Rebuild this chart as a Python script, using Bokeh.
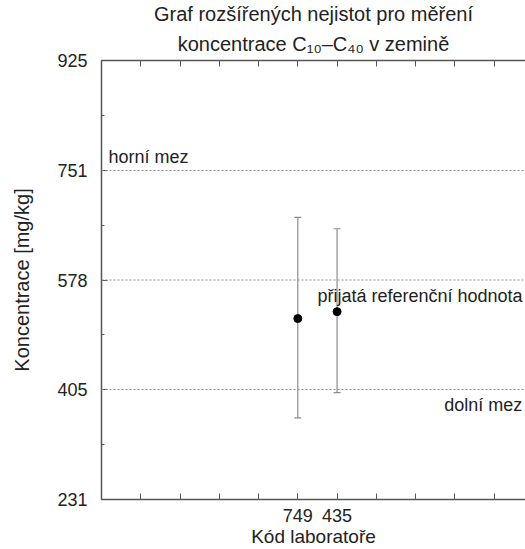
from bokeh.plotting import figure
from bokeh.models import (ColumnDataSource, FixedTicker, LinearAxis, Span, Label,
                          Whisker, TeeHead, Title, Range1d)
from bokeh.embed import file_html
from bokeh.resources import INLINE

# ---- data ----
labs = ["749", "435"]
values = [517, 528]
uncert_up = [160, 131]
uncert_down = [157, 128]
ref_value = 578
upper_limit = 751
lower_limit = 405
y_ticks = [231, 405, 578, 751, 925]
title_lines = ["Graf rozšířených nejistot pro měření", "koncentrace C₁₀–C₄₀ v zemině"]

FONT = "Liberation Sans"
GRAY = "#8c8c8c"
AXC = "#555555"
TXT = "#222222"

x_pos = [5 + i for i in range(len(labs))]
n_ticks = 11

src = ColumnDataSource(dict(
    x=x_pos, y=values,
    upper=[v + u for v, u in zip(values, uncert_up)],
    lower=[v - d for v, d in zip(values, uncert_down)],
))

p = figure(width=525, height=549, output_backend="svg", toolbar_location=None,
           x_range=Range1d(0, 10.8), y_range=Range1d(y_ticks[0], y_ticks[-1]),
           min_border_left=101, min_border_right=0, min_border_top=60,
           min_border_bottom=49, title=None)
p.outline_line_color = None
p.grid.visible = False
p.background_fill_color = "white"
p.border_fill_color = "white"

# x axis: labelled ticks only at the lab positions, plain tick marks elsewhere
xa = p.xaxis[0]
xa.ticker = FixedTicker(ticks=x_pos, minor_ticks=list(range(n_ticks)))
xa.major_label_overrides = {xp: lab for xp, lab in zip(x_pos, labs)}
xa.axis_label = "Kód laboratoře"

ya = p.yaxis[0]
mids = [(a + b) / 2 for a, b in zip(y_ticks[:-1], y_ticks[1:])]
ya.ticker = FixedTicker(ticks=y_ticks, minor_ticks=mids)
ya.axis_label = "Koncentrace [mg/kg]"

top = LinearAxis(ticker=FixedTicker(ticks=[], minor_ticks=list(range(n_ticks))))
p.add_layout(top, "above")

for ax in (xa, ya, top):
    ax.axis_line_color = AXC
    ax.axis_line_width = 1.5
    ax.major_tick_line_color = AXC
    ax.minor_tick_line_color = AXC
    ax.major_tick_in = 6
    ax.major_tick_out = 0
    ax.minor_tick_in = 3
    ax.minor_tick_out = 0
    ax.major_label_text_font = FONT
    ax.major_label_text_font_size = "18px"
    ax.major_label_text_color = TXT
    ax.axis_label_text_font = FONT
    ax.axis_label_text_font_size = "19px"
    ax.axis_label_text_font_style = "normal"
    ax.axis_label_text_color = TXT
ya.axis_label_text_font_size = "20px"
xa.minor_tick_in = 6
top.minor_tick_in = 6
xa.major_label_standoff = 9
xa.axis_label_standoff = 1
ya.major_label_standoff = 14
ya.axis_label_standoff = 21

# limit lines
for val in (upper_limit, ref_value, lower_limit):
    p.add_layout(Span(location=val, dimension="width", line_color=GRAY,
                      line_width=1, line_dash="2 2"))

lab_style = dict(text_font=FONT, text_font_size="18px", text_color=TXT)
p.add_layout(Label(x=0.18, y=upper_limit, text="horní mez", text_baseline="bottom",
                   y_offset=4, **lab_style))
p.add_layout(Label(x=5.5, y=ref_value, text="přijatá referenční hodnota",
                   text_baseline="top", y_offset=-6, **lab_style))
p.add_layout(Label(x=10.72, y=lower_limit, text="dolní mez", text_align="right",
                   text_baseline="top", y_offset=-6, **lab_style))

# error bars and points
p.add_layout(Whisker(source=src, base="x", upper="upper", lower="lower",
                     line_color=GRAY, line_width=1.2,
                     upper_head=TeeHead(size=7, line_color=GRAY, line_width=1.2),
                     lower_head=TeeHead(size=7, line_color=GRAY, line_width=1.2)))
p.scatter("x", "y", source=src, size=8, color="black")

# title (two centred lines)
title_style = dict(align="center", text_font=FONT, text_font_size="20px",
                   text_font_style="normal", text_color=TXT)
p.add_layout(Title(text=title_lines[1], standoff=12, **title_style), "above")
p.add_layout(Title(text=title_lines[0], standoff=0, **title_style), "above")

open("out.html", "w").write(file_html(p, INLINE))
